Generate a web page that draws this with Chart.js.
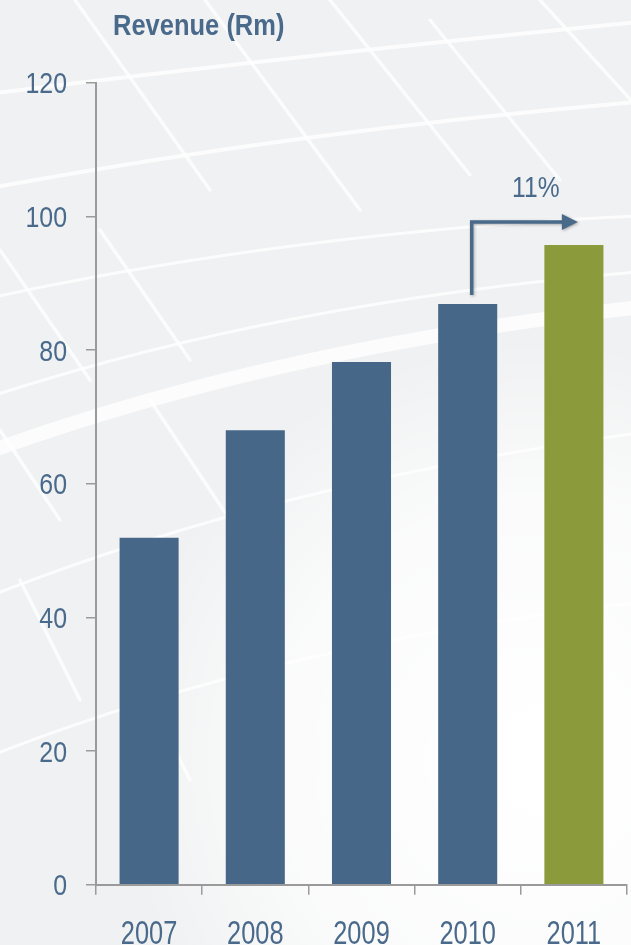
<!DOCTYPE html>
<html>
<head>
<meta charset="utf-8">
<script src="https://cdn.jsdelivr.net/npm/chart.js@4"></script>
<style>
  html, body { margin: 0; padding: 0; background: #f1f1f2; }
  #wrap { width: 631px; height: 945px; position: relative; }
</style>
</head>
<body>
<div id="wrap"><canvas id="c" width="631" height="945"></canvas></div>
<script>
// Revenue by year (Rm)
const years = ['2007', '2008', '2009', '2010', '2011'];
const revenue = [51.9, 68.0, 78.2, 86.9, 95.7];
const barColors = ['#476788', '#476788', '#476788', '#476788', '#8b9b3b'];
const yTicks = [0, 20, 40, 60, 80, 100, 120];
const titleText = 'Revenue (Rm)';
const growthText = '11%';

const FACE = '"Liberation Sans", Arial, sans-serif';
const INK = '#4a6a8c';
const AXIS = '#9a9a9a';

// Narrow text: regular face squeezed horizontally
function narrowText(ctx, text, x, y, align, font, sx) {
  ctx.save();
  ctx.translate(x, y);
  ctx.scale(sx, 1);
  ctx.font = font;
  ctx.textAlign = align;
  ctx.textBaseline = 'alphabetic';
  ctx.fillText(text, 0, 0);
  ctx.restore();
}

// Pale grey backdrop with a faint lattice of white structural lines
const backdrop = {
  id: 'backdrop',
  beforeDraw(chart) {
    const { ctx, width, height } = chart;
    ctx.save();
    ctx.fillStyle = '#f0f1f2';
    ctx.fillRect(0, 0, width, height);

    ctx.strokeStyle = 'rgba(255,255,255,0.8)';
    ctx.lineCap = 'round';
    // curved bands rising to the right
    const bands = [
      [-20, 95, 300, 55, 660, 20, 4],
      [-20, 190, 300, 130, 660, 100, 4],
      [-20, 300, 300, 230, 660, 215, 3],
      [-20, 455, 280, 345, 660, 305, 14],
      [-20, 400, 280, 300, 660, 270, 3],
      [-20, 600, 280, 480, 660, 430, 3],
      [-20, 760, 280, 640, 660, 600, 3]
    ];
    bands.forEach(([x1, y1, cx, cy, x2, y2, w]) => {
      ctx.lineWidth = w;
      ctx.beginPath();
      ctx.moveTo(x1, y1);
      ctx.quadraticCurveTo(cx, cy, x2, y2);
      ctx.stroke();
    });
    // cross members descending to the right
    ctx.lineWidth = 3.5;
    ctx.strokeStyle = 'rgba(255,255,255,0.75)';
    [[75, 0, 210, 190], [205, 0, 360, 210], [330, 0, 470, 175], [430, 20, 560, 180],
     [540, 0, 640, 110], [0, 250, 90, 380], [100, 230, 190, 360], [0, 430, 60, 520],
     [150, 400, 230, 520], [20, 580, 80, 700], [150, 700, 190, 780]].forEach(([x1, y1, x2, y2]) => {
      ctx.beginPath();
      ctx.moveTo(x1, y1);
      ctx.lineTo(x2, y2);
      ctx.stroke();
    });

    // lighter wash over the lower right
    const r = ctx.createRadialGradient(540, 760, 30, 540, 760, 420);
    r.addColorStop(0, 'rgba(255,255,255,1)');
    r.addColorStop(0.6, 'rgba(255,255,255,0.7)');
    r.addColorStop(1, 'rgba(255,255,255,0)');
    ctx.fillStyle = r;
    ctx.fillRect(0, 0, width, height);
    ctx.restore();
  }
};

// Axis labels, title and the growth arrow from 2010 to 2011
const annotations = {
  id: 'annotations',
  afterDraw(chart) {
    const { ctx, scales: { x, y } } = chart;
    ctx.save();
    ctx.fillStyle = INK;

    y.ticks.forEach(t => {
      narrowText(ctx, String(t.value), 67, y.getPixelForValue(t.value) + 10.7, 'right', '30px ' + FACE, 0.83);
    });
    years.forEach((lab, i) => {
      narrowText(ctx, lab, x.getPixelForValue(i), 944, 'center', '33px ' + FACE, 0.77);
    });
    narrowText(ctx, titleText, 113, 34.5, 'left', 'bold 30px ' + FACE, 0.85);

    const from = years.length - 2, to = years.length - 1;
    const xs = x.getPixelForValue(from) + 4;
    const ys = y.getPixelForValue(revenue[from]) - 9;
    const ly = y.getPixelForValue(revenue[to]) - 23;
    const xe = x.getPixelForValue(to) + 4;

    ctx.save();
    ctx.shadowColor = 'rgba(0,0,0,0.3)';
    ctx.shadowBlur = 3;
    ctx.shadowOffsetX = 1;
    ctx.shadowOffsetY = 1;
    ctx.strokeStyle = '#4a6a8a';
    ctx.fillStyle = '#4a6a8a';
    ctx.lineWidth = 3.5;
    ctx.lineJoin = 'miter';
    ctx.beginPath();
    ctx.moveTo(xs, ys);
    ctx.lineTo(xs, ly);
    ctx.lineTo(xe - 14, ly);
    ctx.stroke();
    ctx.beginPath();
    ctx.moveTo(xe - 16, ly - 8);
    ctx.lineTo(xe, ly);
    ctx.lineTo(xe - 16, ly + 8);
    ctx.closePath();
    ctx.fill();
    ctx.restore();

    ctx.fillStyle = INK;
    narrowText(ctx, growthText, (xs + xe) / 2 + 11, ly - 25, 'center', '30px ' + FACE, 0.82);
    ctx.restore();
  }
};

new Chart(document.getElementById('c'), {
  type: 'bar',
  data: {
    labels: years,
    datasets: [{
      data: revenue,
      backgroundColor: barColors,
      borderWidth: 0,
      categoryPercentage: 1,
      barPercentage: 0.556
    }]
  },
  options: {
    responsive: false,
    animation: false,
    devicePixelRatio: 1,
    layout: { padding: { top: 82.7, right: 4, left: 0, bottom: 0 } },
    plugins: { legend: { display: false }, tooltip: { enabled: false } },
    scales: {
      x: {
        offset: true,
        grid: { display: true, offset: true, drawOnChartArea: false, drawTicks: true, tickLength: 10, color: AXIS, lineWidth: 1.5 },
        border: { display: true, color: AXIS, width: 2 },
        ticks: { color: 'rgba(0,0,0,0)', font: { family: FACE, size: 30 }, padding: 16, maxRotation: 0 },
        afterFit(s) { s.height = 60.3; }
      },
      y: {
        min: 0,
        max: 120,
        afterBuildTicks(s) { s.ticks = yTicks.map(v => ({ value: v })); },
        grid: { display: true, drawOnChartArea: false, drawTicks: true, tickLength: 10, color: AXIS, lineWidth: 1.5 },
        border: { display: true, color: AXIS, width: 2 },
        ticks: { color: 'rgba(0,0,0,0)', font: { family: FACE, size: 30 }, padding: 19 },
        afterFit(s) { s.width = 96; }
      }
    }
  },
  plugins: [backdrop, annotations]
});
</script>
</body>
</html>
